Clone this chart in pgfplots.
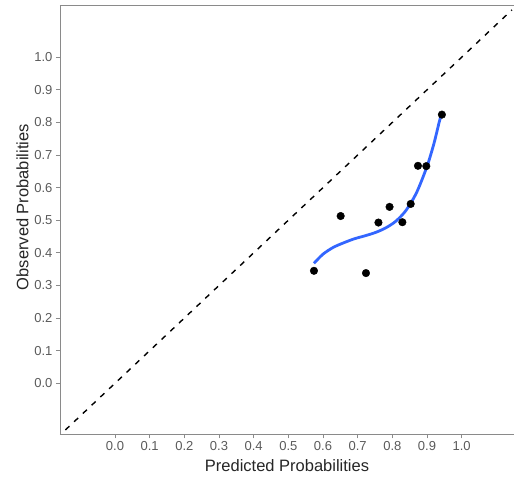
\documentclass[border=0pt]{standalone}
\usepackage{fontspec}
\setmainfont{Liberation Sans}
\usepackage{pgfplots}
\pgfplotsset{compat=1.18}
\definecolor{axgray}{HTML}{8A8A8A}
\definecolor{ticktxt}{HTML}{5A5A5A}
\definecolor{smoothblue}{HTML}{3366FF}
\begin{document}
\begin{tikzpicture}
\begin{axis}[
  scale only axis,
  width=454bp, height=428.6bp,
  xmin=-0.1586, xmax=1.151,
  ymin=-0.1564, ymax=1.158,
  axis lines=left,
  axis line style={-, draw=axgray, line width=0.9bp},
  xtick={0,0.1,...,1.0}, ytick={0,0.1,...,1.0},
  xticklabels={0.0,0.1,0.2,0.3,0.4,0.5,0.6,0.7,0.8,0.9,1.0},
  yticklabels={0.0,0.1,0.2,0.3,0.4,0.5,0.6,0.7,0.8,0.9,1.0},
  tick align=outside, major tick length=4bp,
  tick style={draw=axgray, line width=0.9bp},
  ticklabel style={font=\fontsize{13bp}{14bp}\selectfont, text=ticktxt},
  /pgf/number format/assume math mode=true,
  xlabel={Predicted Probabilities},
  ylabel={Observed Probabilities},
  label style={font=\fontsize{16.5bp}{18bp}\selectfont, text=black!85},
  xlabel style={at={(axis description cs:0.5,0)}, anchor=north, yshift=-22bp},
  ylabel style={at={(axis description cs:0,0.53)}, anchor=south, xshift=0bp, yshift=28bp},
  clip=false,
]
\addplot[black, line width=1.4bp, dash pattern=on 5.5bp off 6.5bp] coordinates {(-0.143,-0.143) (1.145,1.145)};
\addplot[smoothblue, line width=2.8bp, smooth, tension=0.5] coordinates {
(0.574,0.368) (0.600,0.396) (0.630,0.417) (0.660,0.431) (0.690,0.443)
(0.720,0.452) (0.750,0.462) (0.780,0.476) (0.810,0.497) (0.840,0.531)
(0.870,0.585) (0.900,0.665) (0.920,0.735) (0.935,0.800) (0.942,0.826)};
\addplot[only marks, mark=*, mark size=3.8bp, black] coordinates {
(0.574,0.345) (0.651,0.513) (0.724,0.338) (0.760,0.493) (0.792,0.541)
(0.829,0.494) (0.853,0.550) (0.874,0.667) (0.898,0.666) (0.943,0.824)};
\draw[axgray, line width=0.9bp] (rel axis cs:0,1) -- (rel axis cs:1,1);
\end{axis}
\pgfresetboundingbox
\path[use as bounding box] (-60bp,-50.7bp) rectangle (454bp,434.3bp);
\end{tikzpicture}
\end{document}
